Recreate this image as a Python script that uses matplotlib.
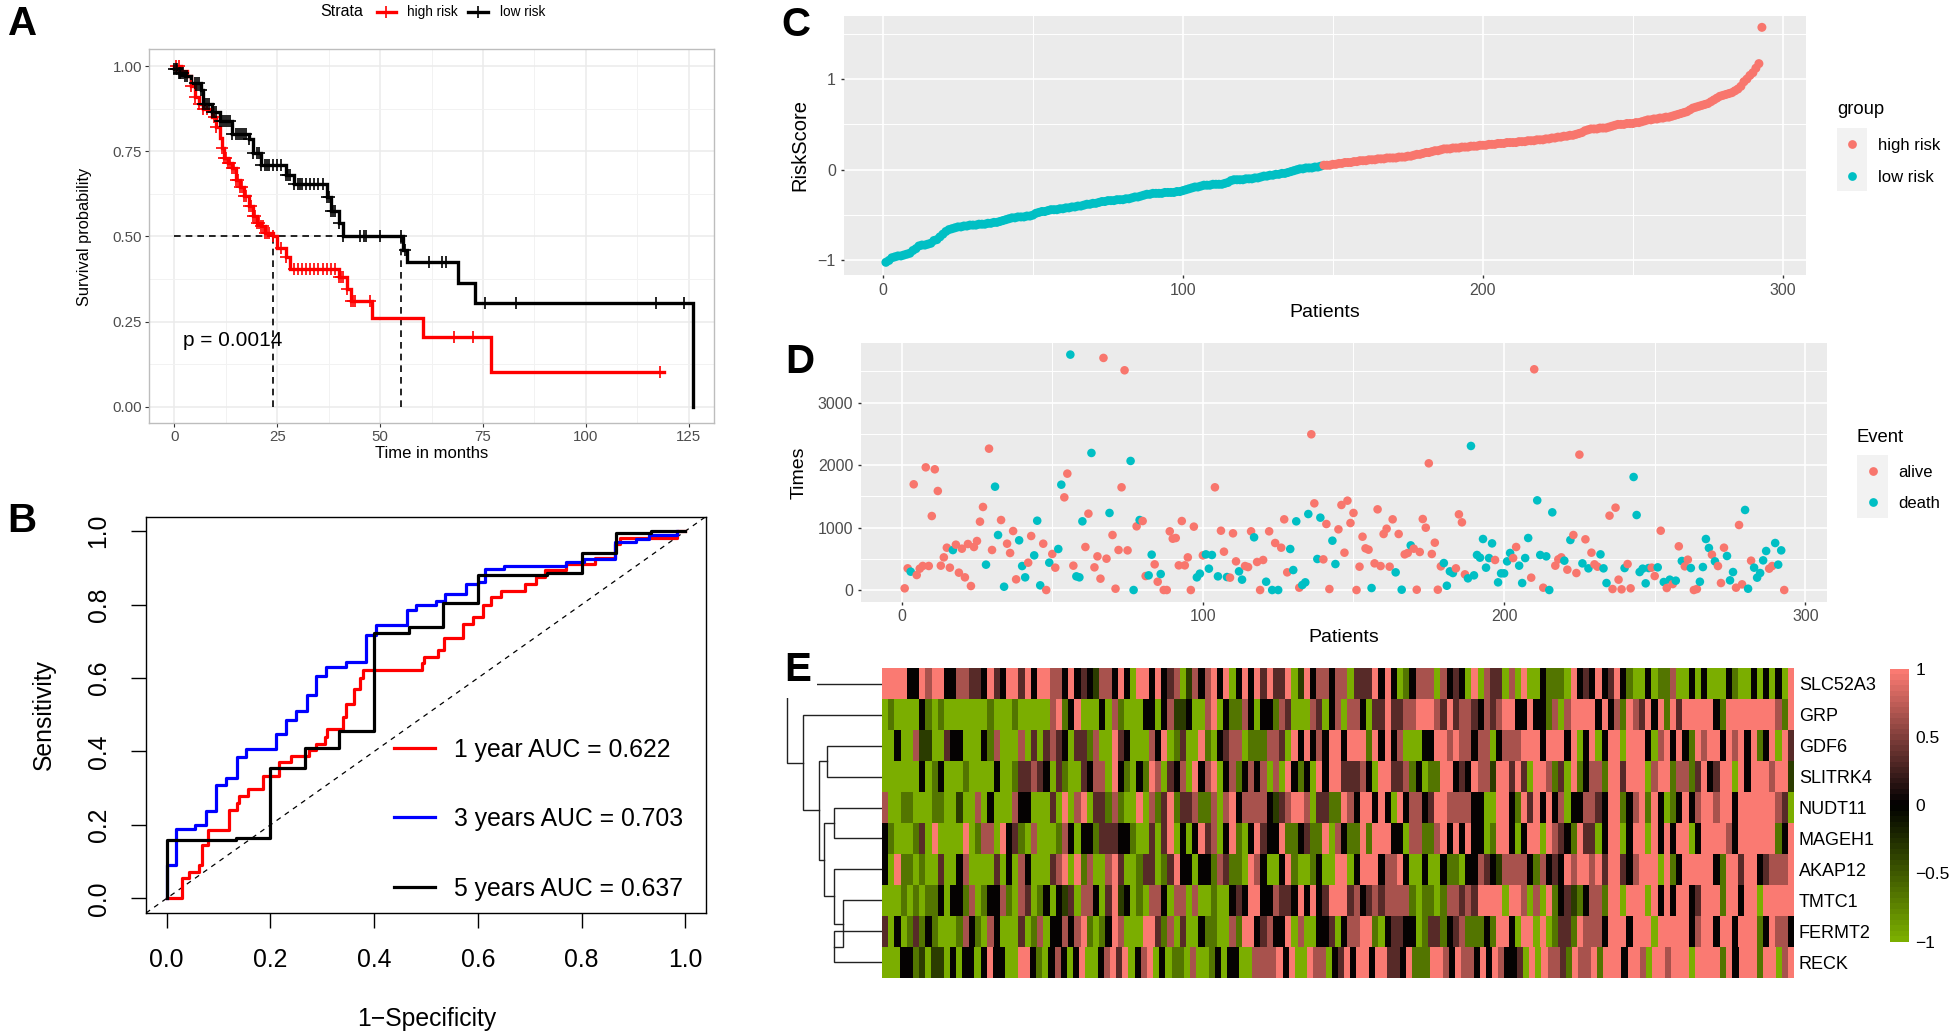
import numpy as np
import matplotlib
matplotlib.use("Agg")
import matplotlib.pyplot as plt
from matplotlib.colors import LinearSegmentedColormap, Normalize
from matplotlib.cm import ScalarMappable
from matplotlib.lines import Line2D
from matplotlib.patches import Rectangle

plt.rcParams["font.family"] = ["Liberation Sans", "DejaVu Sans"]

W, H = 1953, 1036
GG_RED = "#F8766D"
GG_TEAL = "#00BFC4"
GRAY30 = "#4D4D4D"

# panel A, survival curves
high_t = [0, 1.5, 3, 4, 5, 6, 7, 9, 10, 11, 11.5, 12, 13, 14, 15, 16, 17, 18, 19, 20, 21, 22, 24, 25, 27, 28, 40,
          42, 43, 48, 60.5, 77, 119]
high_s = [1.0, 0.985, 0.97, 0.94, 0.91, 0.89, 0.875, 0.85, 0.82, 0.79, 0.76, 0.73, 0.715, 0.70, 0.665, 0.645,
          0.62, 0.59, 0.56, 0.54, 0.53, 0.51, 0.50, 0.465, 0.44, 0.405, 0.38, 0.345, 0.31, 0.26, 0.205, 0.103, 0.103]
low_t = [0, 1, 2.5, 4, 6.5, 7, 9, 11, 14, 18, 19, 21, 27, 29, 37, 38, 40, 41, 55.5, 56.5, 69, 73, 126]
low_s = [0.99, 0.98, 0.97, 0.95, 0.93, 0.89, 0.865, 0.84, 0.80, 0.785, 0.745, 0.71, 0.68, 0.655, 0.615, 0.575,
         0.54, 0.50, 0.46, 0.425, 0.365, 0.305, 0.0]
high_censor = [0.3, 1, 4, 5, 6, 7, 8, 9.5, 10, 11.5, 12, 12.5, 13, 13.5, 14, 14.5, 15, 15.5, 16, 16.5, 17, 17.5, 18,
               18.5, 19, 19.5, 20, 20.5, 21, 21.5, 22, 22.5, 23, 24, 26, 27, 29, 30, 31, 32, 33, 34, 35, 36, 37, 38,
               39, 40, 40.5, 41, 42, 43, 43.5, 44, 47.5, 68, 72.5, 118]
low_censor = [0, 0.3, 0.6, 1, 1.3, 1.6, 2, 2.5, 3, 5, 5.5, 6, 6.5, 7, 7.5, 8, 8.5, 9, 9.5, 10, 11, 11.5, 12, 12.5, 13,
              13.5, 14, 15, 15.5, 16, 16.5, 17, 17.5, 18, 19, 20, 20.5, 21, 22, 22.5, 23, 24, 25, 26, 27, 27.5, 28,
              29, 30, 30.5, 31, 32, 33, 34, 35, 36, 37, 37.5, 38, 38.5, 39, 40, 41, 45, 46, 46.5, 50, 55, 56, 62,
              65, 66, 75.5, 83, 117, 124]
medians = [24, 55]

# panel B, ROC curves
roc1_x = [0, 0.03, 0.03, 0.042, 0.063, 0.068, 0.08, 0.12, 0.135, 0.14, 0.157, 0.185, 0.217, 0.24, 0.275, 0.287, 0.305,
          0.31, 0.34, 0.345, 0.362, 0.372, 0.378, 0.492, 0.497, 0.523, 0.535, 0.572, 0.59, 0.61, 0.625, 0.645, 0.69,
          0.712, 0.73, 0.77, 0.825, 0.865, 0.875, 0.985, 1.0]
roc1_y = [0, 0, 0.055, 0.072, 0.09, 0.145, 0.185, 0.24, 0.26, 0.278, 0.297, 0.333, 0.37, 0.388, 0.405, 0.42, 0.44,
          0.46, 0.495, 0.53, 0.57, 0.60, 0.622, 0.64, 0.658, 0.676, 0.71, 0.747, 0.767, 0.80, 0.82, 0.838, 0.857,
          0.875, 0.893, 0.91, 0.927, 0.965, 0.982, 1.0, 1.0]
roc3_x = [0, 0, 0.018, 0.055, 0.075, 0.095, 0.115, 0.135, 0.153, 0.21, 0.23, 0.25, 0.27, 0.288, 0.308, 0.345, 0.385,
          0.403, 0.463, 0.48, 0.52, 0.537, 0.578, 0.6, 0.613, 0.65, 0.77, 0.805, 0.865, 0.905, 0.93, 0.985]
roc3_y = [0, 0.09, 0.19, 0.20, 0.238, 0.31, 0.327, 0.385, 0.407, 0.447, 0.487, 0.51, 0.553, 0.605, 0.63, 0.643, 0.716,
          0.745, 0.785, 0.80, 0.81, 0.828, 0.855, 0.862, 0.897, 0.905, 0.915, 0.925, 0.97, 0.98, 0.99, 1.0]
roc5_x = [0, 0, 0.133, 0.2, 0.267, 0.333, 0.4, 0.467, 0.533, 0.6, 0.733, 0.8, 0.867, 0.933, 1.0]
roc5_y = [0, 0.16, 0.165, 0.355, 0.41, 0.455, 0.722, 0.74, 0.805, 0.882, 0.887, 0.94, 0.994, 1.0, 1.0]
roc_labels = ["1 year AUC = 0.622", "3 years AUC = 0.703", "5 years AUC = 0.637"]

# panel C, sorted risk scores
risk_score = [
    -1.02, -1.00, -0.97, -0.96, -0.95, -0.95, -0.94, -0.93, -0.92, -0.89,
    -0.87, -0.84, -0.83, -0.83, -0.82, -0.81, -0.78, -0.77, -0.74, -0.71,
    -0.68, -0.66, -0.65, -0.64, -0.63, -0.63, -0.62, -0.62, -0.61, -0.61,
    -0.61, -0.60, -0.60, -0.60, -0.59, -0.59, -0.58, -0.58, -0.57, -0.56,
    -0.55, -0.54, -0.53, -0.53, -0.52, -0.52, -0.52, -0.51, -0.51, -0.50,
    -0.48, -0.47, -0.46, -0.46, -0.45, -0.44, -0.44, -0.44, -0.43, -0.43,
    -0.42, -0.42, -0.41, -0.41, -0.40, -0.40, -0.39, -0.38, -0.38, -0.37,
    -0.37, -0.36, -0.35, -0.35, -0.34, -0.34, -0.34, -0.33, -0.33, -0.33,
    -0.32, -0.32, -0.31, -0.30, -0.30, -0.29, -0.28, -0.27, -0.27, -0.26,
    -0.26, -0.26, -0.26, -0.25, -0.25, -0.25, -0.25, -0.24, -0.24, -0.23,
    -0.22, -0.21, -0.20, -0.19, -0.19, -0.18, -0.17, -0.17, -0.17, -0.16,
    -0.16, -0.16, -0.16, -0.15, -0.14, -0.12, -0.11, -0.11, -0.11, -0.11,
    -0.10, -0.10, -0.10, -0.09, -0.09, -0.08, -0.07, -0.07, -0.06, -0.06,
    -0.05, -0.05, -0.04, -0.04, -0.03, -0.02, -0.01, 0.00, 0.01, 0.01,
    0.02, 0.02, 0.02, 0.03, 0.03, 0.04, 0.05, 0.05, 0.05, 0.06,
    0.06, 0.07, 0.07, 0.08, 0.08, 0.08, 0.09, 0.09, 0.10, 0.10,
    0.10, 0.11, 0.11, 0.11, 0.12, 0.12, 0.12, 0.13, 0.13, 0.13,
    0.13, 0.14, 0.14, 0.14, 0.15, 0.15, 0.16, 0.17, 0.17, 0.18,
    0.19, 0.19, 0.20, 0.21, 0.21, 0.22, 0.23, 0.23, 0.23, 0.24,
    0.24, 0.24, 0.25, 0.25, 0.25, 0.26, 0.26, 0.26, 0.27, 0.27,
    0.27, 0.28, 0.28, 0.28, 0.29, 0.29, 0.29, 0.30, 0.30, 0.30,
    0.30, 0.31, 0.31, 0.31, 0.32, 0.32, 0.32, 0.33, 0.33, 0.33,
    0.34, 0.34, 0.35, 0.35, 0.36, 0.36, 0.37, 0.37, 0.38, 0.38,
    0.39, 0.40, 0.41, 0.43, 0.44, 0.45, 0.45, 0.45, 0.46, 0.46,
    0.46, 0.47, 0.48, 0.49, 0.50, 0.50, 0.50, 0.51, 0.51, 0.51,
    0.52, 0.52, 0.53, 0.54, 0.55, 0.55, 0.56, 0.56, 0.57, 0.57,
    0.58, 0.58, 0.59, 0.60, 0.61, 0.62, 0.63, 0.64, 0.66, 0.68,
    0.69, 0.70, 0.71, 0.72, 0.73, 0.75, 0.77, 0.79, 0.81, 0.82,
    0.83, 0.84, 0.85, 0.87, 0.89, 0.92, 0.97, 1.00, 1.04, 1.07,
    1.12, 1.17, 1.57,
]
n_low = 146

# panel D, follow-up time per patient, in patient order
times = [
    27, 347, 294, 1693, 240, 342, 385, 1965, 385, 1185, 1933, 1586, 390, 523, 678, 358, 640, 726, 278, 662,
    203, 737, 64, 689, 785, 1095, 1330, 406, 2264, 641, 1655, 881, 1121, 53, 742, 593, 945, 171, 796, 384,
    203, 438, 865, 555, 1110, 75, 742, 0, 438, 577, 358, 657, 1687, 1484, 1864, 3770, 390, 219, 203, 1100,
    689, 1223, 2195, 363, 539, 182, 3717, 502, 1234, 881, 21, 641, 1645, 3519, 635, 2067, 0, 1020, 1121, 1105,
    224, 235, 566, 411, 133, 256, 0, 0, 940, 822, 833, 395, 1105, 395, 523, 0, 1015, 203, 262, 555,
    571, 342, 561, 1645, 219, 950, 614, 208, 198, 908, 459, 299, 166, 384, 368, 940, 844, 449, 0, 481,
    133, 940, 0, 753, 0, 678, 1132, 283, 657, 320, 1100, 37, 80, 123, 1217, 2494, 1388, 497, 1159, 491,
    1057, 16, 790, 416, 972, 1362, 598, 1431, 1073, 1234, 0, 374, 854, 667, 646, 32, 427, 1292, 384, 897,
    982, 374, 1132, 283, 897, 5, 571, 593, 715, 662, 5, 609, 1137, 998, 2029, 577, 758, 5, 379, 432,
    69, 299, 272, 347, 1212, 1084, 251, 187, 2307, 235, 561, 518, 817, 358, 512, 747, 481, 123, 267, 267,
    459, 593, 512, 689, 390, 112, 512, 833, 198, 3535, 1436, 561, 37, 539, 0, 1244, 390, 491, 523, 470,
    326, 801, 881, 272, 2168, 427, 812, 347, 598, 411, 374, 571, 347, 112, 1191, 16, 1319, 166, 11, 352,
    416, 27, 1810, 1201, 288, 342, 107, 352, 358, 224, 363, 950, 128, 32, 166, 96, 150, 700, 465, 379,
    486, 352, 0, 16, 133, 368, 817, 673, 566, 459, 384, 112, 678, 545, 155, 288, 37, 1041, 91, 1282,
    21, 470, 358, 198, 272, 475, 625, 342, 384, 753, 406, 635, 0,
]
death_patients = [
    3, 17, 28, 31, 32, 34, 39, 40, 41, 44, 45, 46, 49, 52, 53, 56, 58, 59, 60, 63, 69, 76, 77, 79, 82, 83, 86,
    98, 99, 101, 102, 103, 105, 108, 112, 113, 117, 121, 123, 125, 129, 130, 131, 133, 134, 135, 138, 139,
    143, 144, 156, 164, 166, 169, 180, 181, 182, 183, 188, 189, 190, 191, 192, 193, 194, 195, 196, 198, 199,
    200, 201, 202, 205, 206, 207, 208, 211, 212, 214, 215, 216, 220, 222, 226, 228, 232, 233, 234, 240, 243,
    244, 245, 246, 247, 248, 251, 253, 255, 257, 259, 262, 265, 266, 267, 268, 270, 274, 275, 276, 280, 281,
    283, 284, 285, 286, 287, 290, 291, 292,
]

# panel E, expression levels by row: 0 = -1, 3 = 0, 6 = 1 (read in steps of about two patients)
genes = ["SLC52A3", "GRP", "GDF6", "SLITRK4", "NUDT11", "MAGEH1", "AKAP12", "TMTC1", "FERMT2", "RECK"]
heat_rows = [
    "6666336566335544364366463665536343255363066363450"
    "2535636036364644602635535504446363013555053430605"
    "4405060031110634363463100301150030300031003030306",
    "0100003101000000010001000005613600030510003303522"
    "3005603115303315400054035055304464455666546455435"
    "4566336331505666636351654636164666663166666666516",
    "0030052200433000315000504045430441500643000536014"
    "0061034550111554063635366366616363500033665655355"
    "0355566636663603603660666305636316566365636136064",
    "0000003013000100003001445430410043550631031650435"
    "0635603513535050631306366444530664451301166343655"
    "2664640665140613551664666056615514634660636665662",
    "5001100011002005030005330004060560441510060514614"
    "4511505635555324566504411653663630635534665555330"
    "0663164636350335543661356163013635665663666666540",
    "3100014060000601550634105000153033144433100404603"
    "0364503610364336113411605311616663305511563636330"
    "1663036606543164403660366063636603666653666666136",
    "3061101004003500004030530004560615005640014401463"
    "3033154110653003610013006603666355630030031103354"
    "3255553153436566564664356660613666663166466345556",
    "0001010113033150133510540130324055304623010553055"
    "0500100343663354436363466645345455551011015545466"
    "6606650506134213551660666063636634666166366066666",
    "4030141310001531053000401503353561013650006641504"
    "0031100516634533605003340355661034433014413451113"
    "1663066060144165553666366606666635663663666136553",
    "0003312022030330363300663103530360035646035603011"
    "0500130330055556360065503463663664436111665365536"
    "3653340606554165561666366506656 6606666163666166056".replace(" ", ""),
]
# dendrogram merges: height, child a, child b (int = row, "nX" = merge number X)
merges = [
    (48.2, 8, 9),
    (39.0, 7, "n0"),
    (48.2, 6, "n1"),
    (48.2, 4, 5),
    (58.5, "n3", "n2"),
    (55.5, 2, 3),
    (63.5, "n5", "n4"),
    (78.8, 1, "n6"),
    (95.3, 0, "n7"),
]
colorbar_ticks = [-1, -0.5, 0, 0.5, 1]
colorbar_labels = ["\u22121", "\u22120.5", "0", "0.5", "1"]


def add_axes_px(fig, left, top, right, bottom):
    return fig.add_axes([left / W, 1 - bottom / H, (right - left) / W, (bottom - top) / H])


def fig_text(fig, x, y, s, **kwargs):
    return fig.text(x / W, 1 - y / H, s, **kwargs)


def gg_panel(ax, xmajor, xminor, ymajor, yminor):
    ax.set_facecolor("#EBEBEB")
    for spine in ax.spines.values():
        spine.set_visible(False)
    ax.set_xticks(xmajor)
    ax.set_xticks(xminor, minor=True)
    ax.set_yticks(ymajor)
    ax.set_yticks(yminor, minor=True)
    ax.grid(True, which="major", color="white", lw=1.2)
    ax.grid(True, which="minor", color="white", lw=0.7)
    ax.set_axisbelow(True)
    ax.tick_params(which="minor", length=0)
    ax.tick_params(which="major", length=2.5, width=1, color="#333333", labelcolor=GRAY30, labelsize=11.5, pad=3)


def gg_legend(fig, title, labels, left, right, top, bottom, point_x, ys, text_x, title_y):
    fig.add_artist(Rectangle((left / W, 1 - bottom / H), (right - left) / W, (bottom - top) / H,
                             transform=fig.transFigure, color="#F2F2F2", lw=0))
    fig_text(fig, left, title_y, title, fontsize=13.3, va="center", ha="left", color="black")
    for label, y, c in zip(labels, ys, [GG_RED, GG_TEAL]):
        fig.add_artist(Line2D([point_x / W], [1 - y / H], marker="o", ms=6.3, color=c, ls="none", mew=0,
                              transform=fig.transFigure))
        fig_text(fig, text_x, y + 1.5, label, fontsize=12, va="center", ha="left", color="black")


fig = plt.figure(figsize=(W / 100, H / 100), dpi=100, facecolor="white")

# A: Kaplan-Meier
ax = add_axes_px(fig, 149, 49, 714, 423)
ax.set_xlim(-6.2, 131.2)
ax.set_ylim(-0.047, 1.0499)
ax.set_xticks([0, 25, 50, 75, 100, 125])
ax.set_xticks([12.5, 37.5, 62.5, 87.5, 112.5], minor=True)
ax.set_yticks([0, 0.25, 0.5, 0.75, 1.0])
ax.set_yticks([0.125, 0.375, 0.625, 0.875], minor=True)
ax.set_yticklabels(["0.00", "0.25", "0.50", "0.75", "1.00"])
ax.grid(True, which="major", color="#EBEBEB", lw=1.1)
ax.grid(True, which="minor", color="#F2F2F2", lw=0.7)
ax.set_axisbelow(True)
ax.tick_params(which="minor", length=0)
ax.tick_params(which="major", length=3, width=0.8, color="#333333", labelcolor=GRAY30, labelsize=10.8, pad=2)
for spine in ax.spines.values():
    spine.set_color("#BDBDBD")
    spine.set_linewidth(1)
ax.plot([0, 55], [0.5, 0.5], color="black", lw=1.2, ls=(0, (4, 3)), zorder=2)
for m in medians:
    ax.plot([m, m], [0, 0.5], color="black", lw=1.2, ls=(0, (4, 3)), zorder=2)
for t, s, cens, c in [(high_t, high_s, high_censor, "red"), (low_t, low_s, low_censor, "black")]:
    ax.step(t, s, where="post", color=c, lw=2.4, zorder=3, solid_joinstyle="miter")
    idx = np.searchsorted(t, cens, side="right") - 1
    ax.plot(cens, np.array(s)[idx], ls="none", marker="+", ms=9, mew=1.2, color=c, zorder=4)
ax.text(2.1, 0.196, "p = 0.0014", fontsize=15, va="center", ha="left", color="black")
fig_text(fig, 432, 454, "Time in months", fontsize=12, ha="center", va="center")
fig_text(fig, 84, 237, "Survival probability", fontsize=11.8, ha="center", va="center", rotation=90)
fig_text(fig, 320, 12, "Strata", fontsize=11.5, ha="left", va="center")
for x0, x1, tx, label, c in [(376.5, 396, 407, "high risk", "red"), (468, 487.6, 499.5, "low risk", "black")]:
    fig.add_artist(Line2D([x0 / W, x1 / W], [1 - 12 / H] * 2, color=c, lw=2.4, transform=fig.transFigure))
    fig.add_artist(Line2D([(x0 + x1) / 2 / W], [1 - 12 / H], color=c, marker="+", ms=9, mew=1.2, ls="none",
                          transform=fig.transFigure))
    fig_text(fig, tx, 12, label, fontsize=9.8, ha="left", va="center")

# B: ROC
ax = add_axes_px(fig, 146, 516.5, 706, 913)
ax.set_xlim(-0.04, 1.04)
ax.set_ylim(-0.04, 1.04)
ax.plot([-0.04, 1.04], [-0.04, 1.04], color="black", lw=0.9, ls=(0, (4, 4)))
ax.step(roc1_x, roc1_y, where="post", color="red", lw=2.3)
ax.step(roc3_x, roc3_y, where="post", color="blue", lw=2.3)
ax.step(roc5_x, roc5_y, where="post", color="black", lw=2.3)
ax.set_xticks([0, 0.2, 0.4, 0.6, 0.8, 1.0])
ax.set_yticks([0, 0.2, 0.4, 0.6, 0.8, 1.0])
ax.tick_params(length=10.5, width=1, labelsize=17.8)
ax.tick_params(axis="x", pad=15)
ax.tick_params(axis="y", pad=15)
for lab in ax.get_yticklabels():
    lab.set_rotation(90)
    lab.set_va("center")
for spine in ax.spines.values():
    spine.set_linewidth(1)
for label, y, c in zip(roc_labels, [747.7, 817, 887], ["red", "blue", "black"]):
    fig.add_artist(Line2D([393.5 / W, 435 / W], [1 - y / H] * 2, color=c, lw=2.3, transform=fig.transFigure))
    fig_text(fig, 453.6, y + 2, label, fontsize=17.8, ha="left", va="center")
fig_text(fig, 427, 1019, "1\u2212Specificity", fontsize=17.8, ha="center", va="center")
fig_text(fig, 43.6, 714.6, "Sensitivity", fontsize=17.8, ha="center", va="center", rotation=90)

# C: risk score
patients = np.arange(1, len(risk_score) + 1)
ax = add_axes_px(fig, 843.6, 16, 1806, 275)
gg_panel(ax, [0, 100, 200, 300], [50, 150, 250], [-1, 0, 1], [-0.5, 0.5, 1.5])
ax.set_xlim(-13.1, 307.7)
ax.set_ylim(-1.16, 1.695)
ax.set_yticklabels(["\u22121", "0", "1"])
score_colors = [GG_TEAL if p <= n_low else GG_RED for p in patients]
ax.scatter(patients, risk_score, s=42, c=score_colors, lw=0, zorder=3)
fig_text(fig, 1325, 312, "Patients", fontsize=14, ha="center", va="center")
fig_text(fig, 799.5, 145, "RiskScore", fontsize=14.5, ha="center", va="center", rotation=90)
gg_legend(fig, "group", ["high risk", "low risk"], 1836.8, 1866.8, 128, 191, 1852, [144, 175.7], 1878, 110)

# D: survival time
ax = add_axes_px(fig, 861, 343, 1827, 601.7)
gg_panel(ax, [0, 100, 200, 300], [50, 150, 250], [0, 1000, 2000, 3000], [500, 1500, 2500, 3500])
ax.set_xlim(-13.5, 307.2)
ax.set_ylim(-187, 3956)
patients_d = np.arange(1, len(times) + 1)
time_colors = [GG_TEAL if p in death_patients else GG_RED for p in patients_d]
ax.scatter(patients_d, times, s=38, c=time_colors, lw=0, zorder=3)
fig_text(fig, 1344, 638, "Patients", fontsize=14, ha="center", va="center")
fig_text(fig, 799, 473, "Times", fontsize=14, ha="center", va="center", rotation=90)
gg_legend(fig, "Event", ["alive", "death"], 1857, 1888, 455, 518, 1872.7, [471, 502], 1898.5, 437)

# E: heatmap
heat_cmap = LinearSegmentedColormap.from_list("gbr", ["#7BAE00", "#000000", "#FA7A72"], N=50)
norm = Normalize(-1, 1)
ax = add_axes_px(fig, 882, 668.3, 1794, 977.7)
for r, row in enumerate(heat_rows):
    levels = (np.array([int(c) for c in row]) - 3) / 3
    edges = np.linspace(0, 293, len(levels) + 1)
    ax.pcolormesh(edges, [r, r + 1], levels[np.newaxis, :], cmap=heat_cmap, norm=norm, lw=0, rasterized=True)
ax.set_xlim(0, 293)
ax.set_ylim(len(genes), 0)
ax.set_xticks([])
ax.set_yticks(np.arange(len(genes)) + 0.5)
ax.set_yticklabels(genes)
ax.yaxis.tick_right()
ax.tick_params(axis="y", length=0, labelsize=13, pad=3.5)
for spine in ax.spines.values():
    spine.set_visible(False)

# dendrogram, drawn in the same row units as the heatmap
dend = add_axes_px(fig, 782, 668.3, 882, 977.7)
dend.set_xlim(100, 0)
dend.set_ylim(len(genes), 0)
dend.axis("off")
nodes = {}
for i, (height, a, b) in enumerate(merges):
    pts = []
    for child in (a, b):
        if isinstance(child, int):
            pts.append((0, child + 0.5))
        else:
            pts.append(nodes[child])
    dend.plot([pts[0][0], height, height, pts[1][0]], [pts[0][1], pts[0][1], pts[1][1], pts[1][1]],
              color="#222222", lw=1, solid_joinstyle="miter")
    nodes["n" + str(i)] = (height, (pts[0][1] + pts[1][1]) / 2)
fig.add_artist(Rectangle((780 / W, 1 - 698 / H), 37 / W, 50 / H, transform=fig.transFigure, color="white", lw=0,
                         zorder=5))

cax = add_axes_px(fig, 1890, 669, 1908.5, 941.5)
cb = fig.colorbar(ScalarMappable(norm=norm, cmap=heat_cmap), cax=cax)
cb.outline.set_visible(False)
cb.set_ticks(colorbar_ticks)
cb.set_ticklabels(colorbar_labels)
cax.tick_params(length=0, labelsize=12.5, pad=5)

# panel letters
for letter, x, base in [("A", 8, 35), ("B", 7, 532), ("C", 781, 36), ("D", 785, 373), ("E", 784, 681)]:
    fig_text(fig, x, base, letter, fontsize=29, fontweight="bold", ha="left", va="baseline", zorder=10)

fig.savefig("out.png", dpi=100)
